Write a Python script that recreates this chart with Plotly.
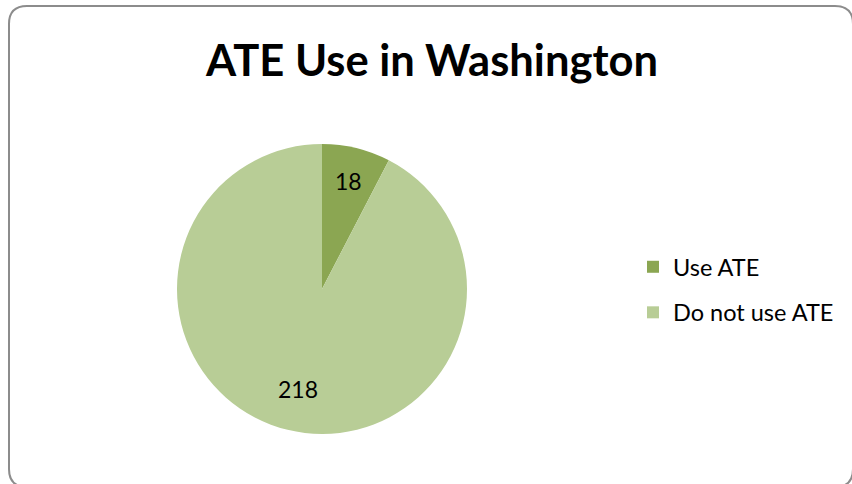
import math
import plotly.graph_objects as go

categories = ["Use ATE", "Do not use ATE"]
values = [18, 218]
colors = ["#8BA652", "#B8CD96"]
title_text = "ATE Use in Washington"

W, H = 852, 484
FONT = "Lato, Open Sans, Liberation Sans, sans-serif"

# pie geometry (pixels)
PX0, PX1, PY0, PY1 = 177, 467, 144, 434
CX, CY, R = (PX0 + PX1) / 2, (PY0 + PY1) / 2, (PX1 - PX0) / 2
label_radius = [0.77, 0.71]

fig = go.Figure()
fig.add_trace(go.Pie(
    labels=categories,
    values=values,
    sort=False,
    direction="clockwise",
    rotation=0,
    marker=dict(colors=colors, line=dict(width=0)),
    textinfo="none",
    showlegend=False,
    domain=dict(x=[PX0 / W, PX1 / W], y=[1 - PY1 / H, 1 - PY0 / H]),
    hoverinfo="label+value",
))

# legend entries
for i, (name, col) in enumerate(zip(categories, colors)):
    fig.add_trace(go.Scatter(
        x=[None], y=[None], mode="markers", name=name,
        marker=dict(symbol="square", size=12, color=col),
        legendgroup=f"g{i}", showlegend=True, hoverinfo="skip",
    ))

# data labels placed at slice mid-angles computed from values
total = sum(values)
annotations = []
cum = 0
for i, v in enumerate(values):
    mid = (cum + v / 2) / total * 2 * math.pi
    cum += v
    rr = R * label_radius[i]
    lx = CX + rr * math.sin(mid)
    ly = CY - rr * math.cos(mid)
    annotations.append(dict(
        x=lx / W, y=1 - ly / H, xref="paper", yref="paper",
        text=str(v), showarrow=False, xanchor="center", yanchor="middle",
        font=dict(family=FONT, size=23, color="#000000"),
    ))

# rounded chart-area border
x0, y0, x1, y1, r = 9, 6, 853, 487, 18
pts = (f"M {x0+r},{y0} L {x1-r},{y0} Q {x1},{y0} {x1},{y0+r} "
       f"L {x1},{y1-r} Q {x1},{y1} {x1-r},{y1} L {x0+r},{y1} "
       f"Q {x0},{y1} {x0},{y1-r} L {x0},{y0+r} Q {x0},{y0} {x0+r},{y0} Z")


def px_path(p):
    out = []
    for tok in p.split(" "):
        if "," in tok:
            a, b = tok.split(",")
            out.append(f"{float(a)/W:.5f},{1-float(b)/H:.5f}")
        else:
            out.append(tok)
    return " ".join(out)


fig.update_layout(
    width=W, height=H,
    margin=dict(l=0, r=0, t=0, b=0),
    paper_bgcolor="#FFFFFF",
    plot_bgcolor="rgba(0,0,0,0)",
    xaxis=dict(visible=False),
    yaxis=dict(visible=False),
    title=dict(text=f"<b>{title_text}</b>", x=432 / W, xanchor="center",
               y=1 - 61 / H, yanchor="middle",
               font=dict(family=FONT, size=43.5, color="#000000")),
    legend=dict(x=633 / W, xanchor="left", y=1 - 290 / H, yanchor="middle",
                font=dict(family=FONT, size=23.5, color="#000000"),
                bgcolor="rgba(0,0,0,0)", itemwidth=30, tracegroupgap=12,
                borderwidth=0),
    annotations=annotations,
    shapes=[dict(type="path", xref="paper", yref="paper", path=px_path(pts),
                 line=dict(color="#8C8C8C", width=2), fillcolor="rgba(0,0,0,0)")],
)

fig.write_html("out.html", config={"displayModeBar": False},
               post_script="document.body.style.margin='0';document.body.style.overflow='hidden';")
